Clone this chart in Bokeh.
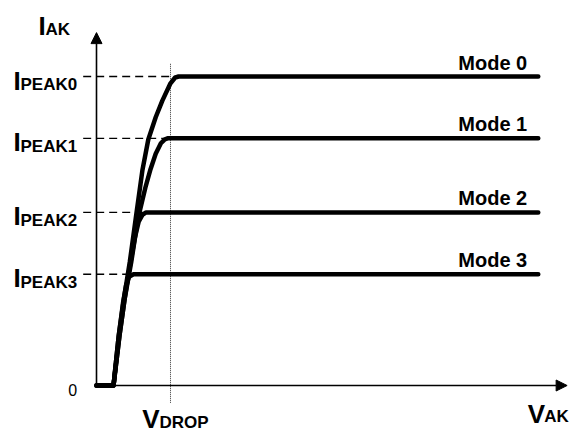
from bokeh.plotting import figure
from bokeh.models import Arrow, NormalHead, Range1d
from bokeh.core.properties import value
from bokeh.embed import file_html
from bokeh.resources import INLINE

# ---- data (V_AK in units of V_DROP, I_AK in arbitrary units) ----
modes = ["Mode 0", "Mode 1", "Mode 2", "Mode 3"]
peak_subs = ["PEAK0", "PEAK1", "PEAK2", "PEAK3"]
i_peak = [5.0, 4.0, 2.8, 1.8]
v_drop = 1.0
v_axis_end = 6.36
i_axis_end = 5.71

mode0_v = [0, 0.23, 0.30, 0.37, 0.45, 0.53, 0.62, 0.70, 0.80, 0.89, 1.00, 1.06, 1.11, 5.97]
mode0_i = [0, 0, 0.80, 1.40, 2.00, 2.70, 3.48, 3.98, 4.34, 4.61, 4.89, 4.98, 5.00, 5.00]
mode1_v = [0, 0.23, 0.31, 0.38, 0.47, 0.56, 0.66, 0.73, 0.80, 0.87, 0.92, 0.96, 5.97]
mode1_i = [0, 0, 0.80, 1.40, 2.00, 2.70, 3.20, 3.50, 3.75, 3.92, 3.98, 4.00, 4.00]
mode2_v = [0, 0.23, 0.31, 0.38, 0.46, 0.52, 0.57, 0.62, 0.67, 5.97]
mode2_i = [0, 0, 0.80, 1.40, 2.00, 2.40, 2.65, 2.76, 2.80, 2.80]
mode3_v = [0, 0.23, 0.30, 0.36, 0.40, 0.44, 0.50, 5.97]
mode3_i = [0, 0, 0.80, 1.35, 1.62, 1.76, 1.80, 1.80]

curves_v = [mode0_v, mode1_v, mode2_v, mode3_v]
curves_i = [mode0_i, mode1_i, mode2_i, mode3_i]

FONT = value("Liberation Sans")
BIG = "26px"
SUB = "17px"

p = figure(width=576, height=436, output_backend="svg", toolbar_location=None,
           x_axis_type=None, y_axis_type=None,
           x_range=Range1d(-1.2973, 6.4865), y_range=Range1d(-0.8252, 6.2298),
           min_border=0, outline_line_color=None, background_fill_color="white")
p.grid.visible = False

# dashed peak guides and dotted V_DROP line
for vs, cs, ip in zip(curves_v, curves_i, i_peak):
    knee = vs[cs.index(ip)]
    p.line([-0.18, knee], [ip, ip], line_color="black", line_width=1.3, line_dash="8 5")
p.line([v_drop, v_drop], [-0.28, 5.21], line_color="#333333", line_width=1, line_dash="1 1")

# axes with arrows
p.add_layout(Arrow(end=NormalHead(size=11, fill_color="black", line_color="black"),
                   x_start=0, y_start=0, x_end=0, y_end=i_axis_end,
                   line_color="black", line_width=1.6))
p.add_layout(Arrow(end=NormalHead(size=11, fill_color="black", line_color="black"),
                   x_start=0, y_start=0, x_end=v_axis_end, y_end=0,
                   line_color="black", line_width=1.6))

# curves
for vs, cs in zip(curves_v, curves_i):
    p.line(vs, cs, line_color="black", line_width=4.5, line_join="round", line_cap="round")

# mode labels
p.text(x=[5.82] * 4, y=i_peak, text=modes, text_align="right", text_baseline="alphabetic",
       y_offset=-14, text_font=FONT, text_font_style="bold", text_font_size="20px",
       text_color="black")

# I_PEAK labels
p.text(x=[-1.122] * 4, y=i_peak, text=["I"] * 4, text_align="left", text_baseline="alphabetic",
       y_offset=4, text_font=FONT, text_font_style="bold", text_font_size=BIG,
       text_color="black")
p.text(x=[-1.122] * 4, y=i_peak, text=peak_subs, text_align="left", text_baseline="alphabetic",
       y_offset=8, x_offset=7, text_font=FONT, text_font_style="bold", text_font_size=SUB,
       text_color="black")

# zero label
p.text(x=[-0.32], y=[0], text=["0"], text_align="center", text_baseline="middle",
       y_offset=4, text_font=FONT, text_font_size="16px", text_color="black")

# axis titles
p.text(x=[-0.784], y=[5.7], text=["I"], text_align="left", text_baseline="alphabetic",
       y_offset=-7, text_font=FONT, text_font_style="bold", text_font_size=BIG, text_color="black")
p.text(x=[-0.784], y=[5.7], text=["AK"], text_align="left", text_baseline="alphabetic",
       y_offset=-4, x_offset=7, text_font=FONT, text_font_style="bold", text_font_size=SUB, text_color="black")

p.text(x=[v_drop], y=[0], text=["V"], text_align="right", text_baseline="alphabetic",
       y_offset=33, x_offset=-11, text_font=FONT, text_font_style="bold", text_font_size=BIG, text_color="black")
p.text(x=[v_drop], y=[0], text=["DROP"], text_align="left", text_baseline="alphabetic",
       y_offset=37, x_offset=-11, text_font=FONT, text_font_style="bold", text_font_size=SUB, text_color="black")

p.text(x=[v_axis_end], y=[0], text=["V"], text_align="right", text_baseline="alphabetic",
       y_offset=28, x_offset=-22, text_font=FONT, text_font_style="bold", text_font_size=BIG, text_color="black")
p.text(x=[v_axis_end], y=[0], text=["AK"], text_align="left", text_baseline="alphabetic",
       y_offset=31, x_offset=-23, text_font=FONT, text_font_style="bold", text_font_size=SUB, text_color="black")

open("out.html", "w").write(file_html(p, INLINE))
